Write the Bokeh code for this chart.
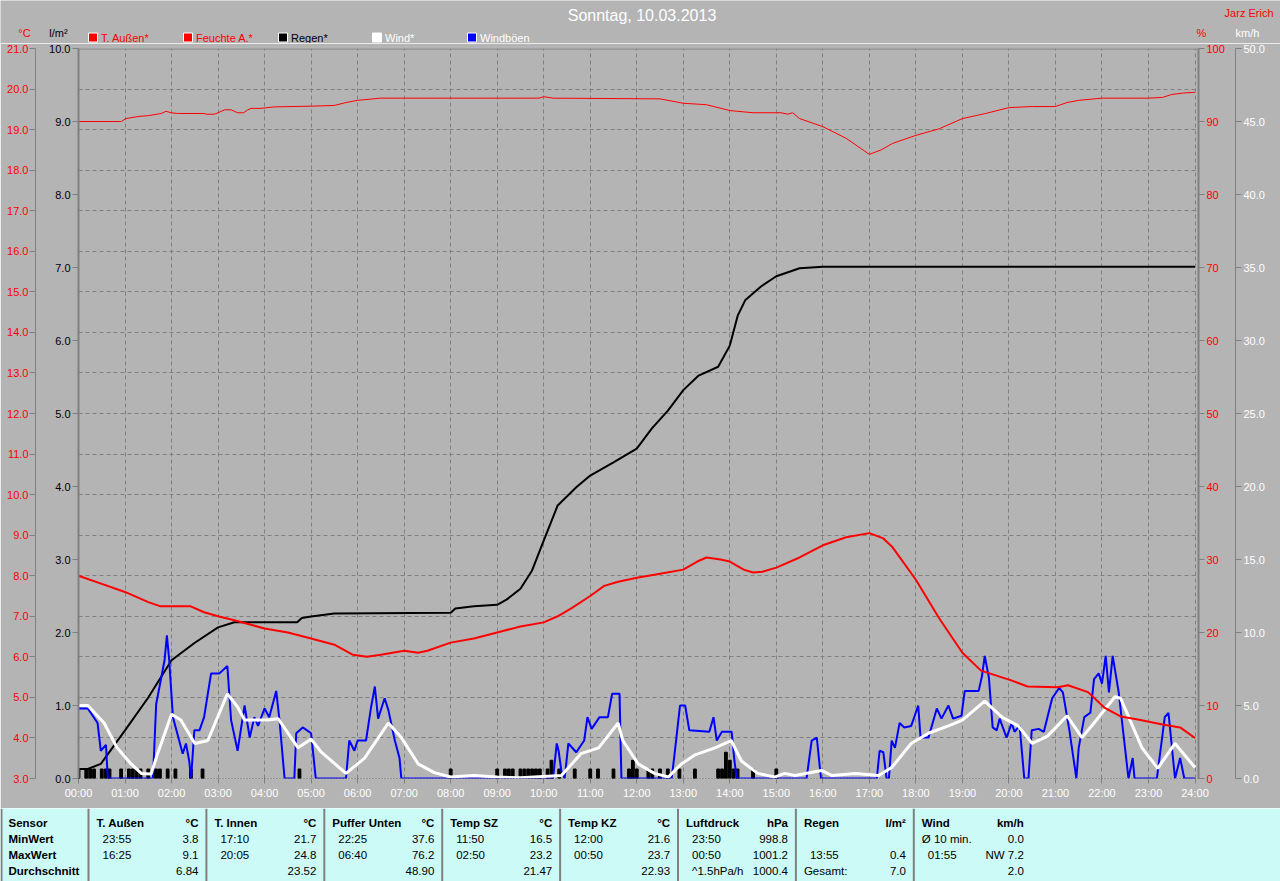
from bokeh.plotting import figure
from bokeh.models import Range1d, LinearAxis, FixedTicker, PrintfTickFormatter, Grid, Span
from bokeh.layouts import column
from bokeh.embed import file_html
from bokeh.resources import INLINE
from bokeh.core.properties import value

# ---------------- data ----------------
title_text = "Sonntag, 10.03.2013"
author_text = "Jarz Erich"
legend_names = ["T. Außen*", "Feuchte A.*", "Regen*", "Wind*", "Windböen"]
unit_labels = ["°C", "l/m²", "%", "km/h"]

hour_ticks = list(range(0, 25))
hour_labels = ["%02d:00" % h for h in hour_ticks]
temp_ticks = list(range(3, 22))
rain_ticks = list(range(0, 11))
hum_ticks = list(range(0, 101, 10))
wind_ticks = list(range(0, 51, 5))

# Temperatur aussen (°C)
temp_t = [0.0, 0.5, 1.0, 1.5, 1.75, 2.0, 2.4, 2.7, 3.0, 3.35, 4.0, 4.5, 5.0, 5.5, 5.9, 6.2,
          6.5, 7.0, 7.3, 7.5, 8.0, 8.5, 9.0, 9.5, 10.0, 10.3, 10.6, 11.0, 11.3, 11.6, 12.0,
          12.5, 13.0, 13.3, 13.5, 13.8, 14.0, 14.3, 14.5, 14.7, 15.0, 15.5, 16.0, 16.5, 17.0,
          17.3, 17.5, 18.0, 18.5, 19.0, 19.4, 19.7, 20.05, 20.4, 21.05, 21.27, 21.7, 22.05,
          22.4, 22.8, 23.3, 23.68, 24.0]
temp_v = [8.0, 7.8, 7.6, 7.35, 7.25, 7.25, 7.25, 7.1, 7.0, 6.9, 6.7, 6.6, 6.45, 6.3, 6.05, 6.0,
          6.05, 6.15, 6.1, 6.15, 6.35, 6.45, 6.6, 6.75, 6.85, 7.0, 7.2, 7.5, 7.75, 7.85, 7.95,
          8.05, 8.15, 8.35, 8.45, 8.4, 8.35, 8.15, 8.08, 8.1, 8.2, 8.45, 8.75, 8.95, 9.05,
          8.92, 8.7, 7.9, 6.95, 6.1, 5.66, 5.55, 5.42, 5.27, 5.25, 5.3, 5.13, 4.75,
          4.53, 4.45, 4.33, 4.26, 4.0]

# Feuchte aussen (%)
hum_t = [0.0, 0.92, 1.02, 1.3, 1.5, 1.78, 1.88, 1.99, 2.13, 2.7, 2.74, 2.92, 3.0, 3.14, 3.28,
         3.42, 3.55, 3.64, 3.71, 3.93, 4.2, 5.0, 5.5, 5.75, 6.0, 6.5, 9.9, 10.0, 10.2, 12.5,
         13.0, 13.5, 14.0, 14.5, 15.1, 15.25, 15.35, 15.5, 16.0, 16.5, 17.0, 17.25, 17.5, 18.0,
         18.5, 19.0, 19.5, 20.0, 20.5, 21.0, 21.25, 21.5, 22.0, 23.0, 23.3, 23.5, 23.75, 24.0]
hum_v = [90.0, 90.0, 90.4, 90.7, 90.8, 91.1, 91.4, 91.2, 91.1, 91.1, 91.0, 91.0, 91.2, 91.6, 91.6,
         91.2, 91.2, 91.6, 91.8, 91.8, 92.0, 92.1, 92.2, 92.6, 92.9, 93.2, 93.2, 93.4, 93.2, 93.1,
         92.5, 92.3, 91.5, 91.2, 91.2, 91.0, 91.2, 90.4, 89.3, 87.7, 85.5, 86.1, 87.0, 88.1,
         89.0, 90.4, 91.1, 91.9, 92.05, 92.05, 92.6, 92.9, 93.2, 93.2, 93.3, 93.7, 93.9, 94.0]

# Regen kumuliert (l/m²)
rain_t = [0.0, 0.2, 0.48, 1.0, 1.5, 2.0, 2.5, 3.0, 3.35, 4.7, 4.8, 5.0, 5.5, 8.0, 8.1, 8.5,
          9.0, 9.2, 9.5, 9.75, 10.0, 10.3, 10.7, 11.0, 11.5, 12.0, 12.33, 12.67, 13.0, 13.33,
          13.75, 14.0, 14.17, 14.33, 14.67, 15.0, 15.5, 16.0, 24.0]
rain_v = [0.13, 0.13, 0.2, 0.66, 1.11, 1.62, 1.86, 2.07, 2.14, 2.14, 2.2, 2.22, 2.26, 2.27, 2.33,
          2.36, 2.38, 2.45, 2.6, 2.85, 3.26, 3.74, 3.99, 4.15, 4.33, 4.52, 4.8, 5.04, 5.32, 5.52,
          5.64, 5.93, 6.34, 6.55, 6.74, 6.88, 6.99, 7.01, 7.01]

# Regen je 5 Minuten (l/m²)
bar_t = ["00:00", "00:10", "00:15", "00:20", "00:30", "00:35", "00:40", "00:55", "01:05",
         "01:10", "01:15", "01:20", "01:30", "01:40", "01:45", "01:55", "02:05", "02:25",
         "02:40", "04:45", "08:00", "09:00", "09:10", "09:15", "09:20", "09:30", "09:35",
         "09:40", "09:45", "09:50", "09:55", "10:05", "10:10", "10:20", "10:40", "11:00",
         "11:10", "11:30", "11:50", "11:55", "12:00", "12:15", "12:20", "12:30", "12:40",
         "12:55", "13:15", "13:45", "13:50", "13:55", "14:00", "14:05", "14:10", "14:30",
         "15:00"]
bar_v = [0.13, 0.13, 0.13, 0.13, 0.13, 0.13, 0.13, 0.13, 0.13,
         0.13, 0.13, 0.13, 0.13, 0.13, 0.13, 0.13, 0.13, 0.13,
         0.13, 0.13, 0.13, 0.13, 0.13, 0.13, 0.13, 0.13, 0.13,
         0.13, 0.13, 0.13, 0.13, 0.13, 0.25, 0.13, 0.13, 0.13,
         0.13, 0.13, 0.13, 0.25, 0.13, 0.13, 0.13, 0.13, 0.13,
         0.13, 0.13, 0.13, 0.13, 0.36, 0.25, 0.13, 0.13, 0.13,
         0.13]

# Wind Mittel (km/h)
wind_t = [0.0, 0.2, 0.55, 0.83, 1.13, 1.35, 1.56, 1.7, 2.0, 2.2, 2.5, 2.78, 3.2, 3.42, 3.57,
          4.07, 4.29, 4.72, 5.0, 5.22, 5.75, 6.15, 6.66, 6.94, 7.3, 7.65, 8.0, 8.5, 9.0, 9.5,
          10.38, 10.8, 11.18, 11.6, 11.7, 12.03, 12.38, 12.68, 12.96, 13.24, 13.68, 14.03,
          14.25, 14.6, 14.96, 15.18, 15.4, 15.97, 16.2, 16.7, 17.2, 17.48, 17.9, 18.27, 18.7,
          19.0, 19.48, 19.85, 20.2, 20.5, 20.83, 21.25, 21.57, 21.93, 22.28, 22.4, 22.86, 23.2,
          23.57, 24.0]
wind_v = [5.0, 5.0, 3.8, 2.1, 1.0, 0.35, 0.3, 1.7, 4.4, 4.0, 2.4, 2.6, 5.8, 4.9, 4.0,
          4.0, 4.1, 2.1, 2.7, 1.8, 0.35, 1.4, 3.8, 2.8, 1.0, 0.4, 0.1, 0.2, 0.1, 0.05,
          0.2, 1.7, 2.1, 3.8, 2.6, 1.0, 0.35, 0.1, 1.0, 1.6, 2.1, 2.6,
          1.2, 0.35, 0.1, 0.35, 0.2, 0.55, 0.2, 0.35, 0.2, 0.75, 2.4, 3.1, 3.6,
          4.0, 5.3, 4.2, 3.6, 2.4, 2.9, 4.3, 2.8, 4.2, 5.6, 5.5, 2.1, 0.7,
          2.4, 0.75]

# Windböen (km/h)
gust_t = [0.0, 0.2, 0.41, 0.48, 0.59, 0.63, 1.6, 1.67, 1.85, 1.9, 1.95, 2.03, 2.24, 2.31, 2.38,
          2.42, 2.49, 2.6, 2.7, 2.85, 3.03, 3.2, 3.28, 3.42, 3.57, 3.68, 3.78, 3.86, 4.0, 4.1,
          4.25, 4.32, 4.43, 4.64, 4.68, 4.82, 5.0, 5.1, 5.75, 5.82, 5.93, 6.0, 6.18, 6.29, 6.37,
          6.44, 6.58, 6.66, 6.8, 6.9, 6.94, 10.2, 10.28, 10.32, 10.38, 10.45, 10.53, 10.7, 10.87,
          10.94, 11.03, 11.2, 11.38, 11.47, 11.63, 11.67, 12.75, 12.81, 12.93, 13.04, 13.13,
          13.56, 13.65, 13.72, 13.83, 14.04, 14.1, 14.15, 15.65, 15.76, 15.87, 15.96, 17.16,
          17.22, 17.3, 17.37, 17.42, 17.48, 17.55, 17.65, 17.75, 17.9, 18.05, 18.1, 18.27,
          18.45, 18.55, 18.7, 18.8, 18.98, 19.05, 19.35, 19.42, 19.48, 19.57, 19.65, 19.74,
          19.8, 19.95, 20.06, 20.12, 20.23, 20.33, 20.42, 20.49, 20.64, 20.75, 20.93, 21.08,
          21.16, 21.3, 21.45, 21.5, 21.62, 21.75, 21.83, 21.93, 22.0, 22.08, 22.15, 22.23,
          22.36, 22.57, 22.66, 22.7, 23.18, 23.35, 23.43, 23.57, 23.68, 23.77, 24.0]
gust_v = [4.8, 4.8, 3.8, 1.9, 2.3, 0.0, 0.0, 5.1, 8.1, 9.8, 8.1, 4.2, 1.7, 2.4, 1.2,
          0.0, 3.3, 3.3, 4.2, 7.2, 7.2, 7.7, 4.0, 1.9, 5.0, 2.8, 4.2, 3.6, 4.8, 4.2,
          6.0, 4.0, 0.0, 0.0, 3.1, 3.5, 3.1, 0.0, 0.0, 2.6, 1.9, 2.6, 2.6, 4.9, 6.3,
          4.1, 5.5, 4.7, 2.6, 1.4, 0.0, 0.0, 2.4, 1.9, 0.5, 0.0, 2.4, 1.8, 2.6,
          4.2, 3.4, 4.2, 4.2, 5.8, 5.8, 0.0, 0.0, 1.6, 5.0, 5.0, 3.3,
          3.2, 4.2, 2.6, 3.2, 3.2, 1.2, 0.0, 0.0, 2.6, 2.8, 0.0, 0.0,
          1.9, 1.8, 0.0, 0.0, 2.6, 2.1, 3.8, 3.5, 3.6, 5.0, 2.8, 2.8,
          4.8, 4.1, 5.0, 4.1, 4.3, 6.0, 6.0, 7.0, 8.4, 6.9, 3.5, 3.3,
          4.1, 2.8, 3.8, 3.2, 3.6, 0.0, 0.0, 3.3, 3.4, 3.2, 5.5, 6.2,
          5.9, 3.3, 0.0, 2.1, 4.2, 4.5, 6.8, 7.2, 6.5, 8.4, 5.9, 8.4,
          5.9, 0.0, 1.4, 0.0, 0.0, 4.2, 4.5, 0.0, 1.4, 0.0, 0.0]

# Tabelle
row_names = ["Sensor", "MinWert", "MaxWert", "Durchschnitt"]
sensors = ["T. Außen", "T. Innen", "Puffer Unten", "Temp SZ", "Temp KZ", "Luftdruck", "Regen", "Wind"]
units = ["°C", "°C", "°C", "°C", "°C", "hPa", "l/m²", "km/h"]
min_time = ["23:55", "17:10", "22:25", "11:50", "12:00", "23:50", "", "Ø 10 min."]
min_val = ["3.8", "21.7", "37.6", "16.5", "21.6", "998.8", "", "0.0"]
max_time = ["16:25", "20:05", "06:40", "02:50", "00:50", "00:50", "13:55", "01:55"]
max_val = ["9.1", "24.8", "76.2", "23.2", "23.7", "1001.2", "0.4", "NW 7.2"]
avg_label = ["", "", "", "", "", "^1.5hPa/h", "Gesamt:", ""]
avg_val = ["6.84", "23.52", "48.90", "21.47", "22.93", "1000.4", "7.0", "2.0"]

# ---------------- style ----------------
BG = "#b4b4b4"
AX = "#808080"
CYAN = "#ccfaf7"
FONT = "Liberation Sans"
W = 1280


def hm(s):
    h, m = s.split(":")
    return int(h) + int(m) / 60.0


def txt(fig, x, y, s, color, size="11px", align="left", style="normal"):
    fig.text(x=[x], y=[y], text=[s], text_color=color, text_font=value(FONT),
             text_font_size=size, text_align=align, text_baseline="middle",
             text_font_style=style)


def bare(h, fill):
    f = figure(width=W, height=h, x_range=Range1d(0, W), y_range=Range1d(h, 0),
               output_backend="svg", toolbar_location=None, min_border=0,
               x_axis_location=None, y_axis_location=None, frame_align=False,
               background_fill_color=fill, border_fill_color=fill, outline_line_color=None)
    f.grid.visible = False
    return f


# ---------------- top strip (title, legend, units) ----------------
top = bare(43, BG)
txt(top, 641.5, 15, title_text, "white", size="16px", align="center")
txt(top, 1273, 12, author_text, "red", align="right")
unit_cols = ["red", "black", "red", "white"]
unit_x = [24, 58, 1201, 1247]
for s, c, x in zip(unit_labels, unit_cols, unit_x):
    txt(top, x, 32, s, c, align="center")
leg_fill = ["red", "red", "black", "white", "blue"]
leg_text = ["red", "red", "black", "white", "white"]
leg_x = [92.5, 187.5, 282.5, 376.5, 471.5]
top.rect(x=leg_x, y=[37] * 5, width=9, height=9, fill_color=leg_fill, line_color="white", line_width=1)
for s, c, x in zip(legend_names, leg_text, leg_x):
    txt(top, x + 8, 37, s, c)

# ---------------- main chart ----------------
p = figure(width=W, height=765, x_range=Range1d(0, 24.075), y_range=Range1d(0, 10),
           output_backend="svg", toolbar_location=None, frame_align=False,
           min_border_left=78, min_border_right=82, min_border_top=5, min_border_bottom=30,
           background_fill_color=BG, border_fill_color=BG, outline_line_color=None)
p.extra_y_ranges = {"temp": Range1d(3, 21), "hum": Range1d(0, 100), "wind": Range1d(0, 50)}


def style_axis(ax, color, ticks, fmt, line_width=1):
    ax.ticker = FixedTicker(ticks=ticks)
    if fmt:
        ax.formatter = PrintfTickFormatter(format=fmt)
    ax.major_label_text_color = color
    ax.major_label_text_font = FONT
    ax.major_label_text_font_size = "11px"
    ax.axis_line_color = AX
    ax.axis_line_width = line_width
    ax.major_tick_line_color = AX
    ax.minor_tick_line_color = None
    ax.major_tick_out = 6
    ax.major_tick_in = 0
    ax.major_label_standoff = 2


rain_axis = p.yaxis[0]
style_axis(rain_axis, "black", rain_ticks, "%.1f", 2)
rain_axis.axis_label = " "
rain_axis.axis_label_text_font_size = "2px"
rain_axis.axis_label_standoff = 5

temp_axis = LinearAxis(y_range_name="temp")
style_axis(temp_axis, "red", temp_ticks, "%.1f")
temp_axis.major_label_standoff = 1
p.add_layout(temp_axis, "left")

hum_axis = LinearAxis(y_range_name="hum")
style_axis(hum_axis, "red", hum_ticks, "%d", 2)
hum_axis.axis_label = " "
hum_axis.axis_label_text_font_size = "2px"
hum_axis.axis_label_standoff = 2
p.add_layout(hum_axis, "right")

wind_axis = LinearAxis(y_range_name="wind")
style_axis(wind_axis, "white", wind_ticks, "%.1f")
p.add_layout(wind_axis, "right")

xa = p.xaxis[0]
style_axis(xa, "white", hour_ticks, None)
xa.major_label_overrides = {h: s for h, s in zip(hour_ticks, hour_labels)}
xa.axis_line_color = None
xa.major_tick_out = 5
xa.major_label_standoff = 3

p.xgrid[0].ticker = FixedTicker(ticks=hour_ticks)
p.xgrid[0].grid_line_color = AX
p.xgrid[0].grid_line_dash = "4 3"
p.ygrid[0].visible = False
p.add_layout(Grid(dimension=1, y_range_name="temp", ticker=FixedTicker(ticks=temp_ticks),
                  grid_line_color=AX, grid_line_dash="4 3"))

p.add_layout(Span(location=10, dimension="width", line_color=AX, line_width=2))
p.add_layout(Span(location=0, dimension="width", line_color="black", line_dash="1 2", line_width=1))

p.vbar(x=[hm(t) for t in bar_t], top=bar_v, bottom=0, width=0.06, color="black")
p.line(rain_t, rain_v, line_color="black", line_width=2)
p.line(gust_t, gust_v, line_color="blue", line_width=2, y_range_name="wind")
p.line(wind_t, wind_v, line_color="white", line_width=3, y_range_name="wind")
p.line(temp_t, temp_v, line_color="red", line_width=2, y_range_name="temp")
p.line(hum_t, hum_v, line_color="red", line_width=1, y_range_name="hum")

# ---------------- table ----------------
tb = bare(73, CYAN)
row_y = [14, 30, 46, 62]
BOLD = "bold"
FS = "11.5px"
for s, y in zip(row_names, row_y):
    txt(tb, 8, y, s, "black", size=FS, style=BOLD)
tb.segment(x0=[1], y0=[0], x1=[1], y1=[73], line_color=AX, line_width=2)
for i in range(len(sensors)):
    sep = 88 + i * 117.9
    tb.segment(x0=[sep], y0=[0], x1=[sep], y1=[73], line_color=AX, line_width=2)
    right = sep + 110
    txt(tb, sep + 8, row_y[0], sensors[i], "black", size=FS, style=BOLD)
    txt(tb, right, row_y[0], units[i], "black", size=FS, align="right", style=BOLD)
    off = 8 if min_time[i].startswith("Ø") else 14
    txt(tb, sep + off, row_y[1], min_time[i], "black", size=FS)
    txt(tb, right, row_y[1], min_val[i], "black", size=FS, align="right")
    txt(tb, sep + 14, row_y[2], max_time[i], "black", size=FS)
    txt(tb, right, row_y[2], max_val[i], "black", size=FS, align="right")
    off = 14 if avg_label[i].startswith("^") else 8
    txt(tb, sep + off, row_y[3], avg_label[i], "black", size=FS)
    txt(tb, right, row_y[3], avg_val[i], "black", size=FS, align="right")

layout = column(top, p, tb, spacing=0)
open("out.html", "w").write(file_html(layout, INLINE))
